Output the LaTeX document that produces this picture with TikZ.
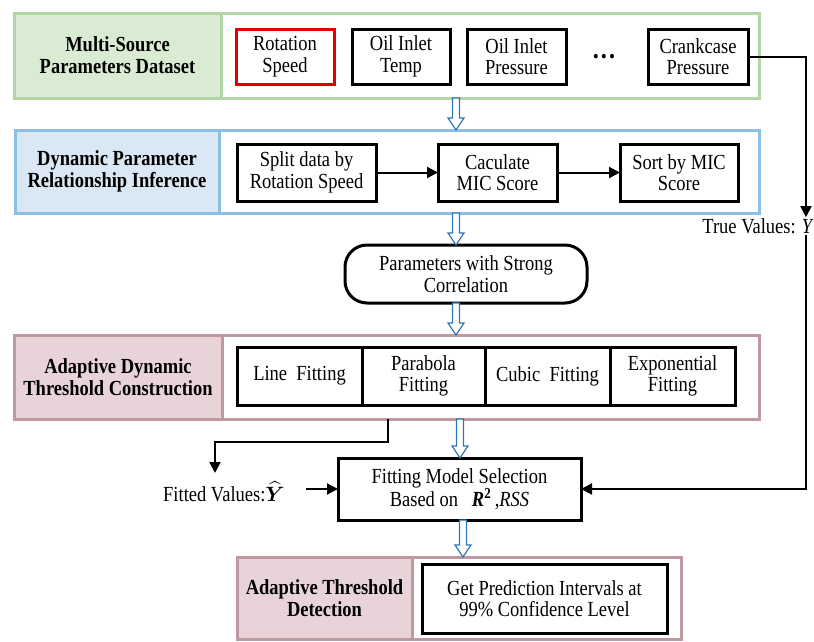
\documentclass[tikz,border=0pt]{standalone}
\usepackage{amsmath}
\usepackage{fontspec}
\setmainfont{Liberation Serif}
\newfontfamily\tnr{Liberation Serif}[FakeStretch=0.86]
\usetikzlibrary{arrows.meta,calc}
\definecolor{gfill}{RGB}{218,235,212}
\definecolor{gline}{RGB}{178,214,163}
\definecolor{bfill}{RGB}{218,231,244}
\definecolor{bline}{RGB}{141,190,228}
\definecolor{pfill}{RGB}{232,212,216}
\definecolor{pline}{RGB}{192,153,160}
\definecolor{hblue}{RGB}{46,117,182}
\definecolor{redbox}{RGB}{226,0,0}
\newcommand{\hollowarrow}[2]{%
  \path let \p1=#1, \p2=#2 in [draw=hblue, fill=white, line width=1.2pt, line join=miter]
  ({\x1-3.5pt},{\y1}) -- ({\x1-3.5pt},{\y2+12pt}) -- ({\x1-8pt},{\y2+12pt}) -- ({\x1},{\y2})
  -- ({\x1+8pt},{\y2+12pt}) -- ({\x1+3.5pt},{\y2+12pt}) -- ({\x1+3.5pt},{\y1}) -- cycle;}
\begin{document}
\begin{tikzpicture}[x=1pt,y=-1pt,
  every node/.style={font=\tnr\fontsize{21.5}{21.5}\selectfont},
  panel/.style={draw, line width=3pt, inner sep=0pt, outer sep=0pt, fill=white},
  lsec/.style={draw, line width=3pt, inner sep=0pt, outer sep=0pt, align=center,
    font=\tnr\fontsize{21.5}{22}\selectfont\bfseries},
  box/.style={draw=black, line width=3pt, inner sep=0pt, outer sep=0pt, align=center, fill=white},
  conn/.style={line width=2pt, -{Triangle[length=11pt,width=11pt]}}]
\useasboundingbox (0,0) rectangle (814,641);
% column coordinates
\coordinate (cA) at (456,0);
\coordinate (cB) at (460,0);
\coordinate (cC) at (463,0);
\coordinate (cR) at (806,0);
\coordinate (cL) at (388,0);
% panel 1
\node[panel, draw=gline, minimum width=745pt, minimum height=85pt] (pA) at (386.5,55.5) {};
\node[lsec, draw=gline, fill=gfill, minimum width=207pt, minimum height=85pt] (lA) at (117.5,55.5) {Multi-Source\\Parameters Dataset};
\node[box, draw=redbox, minimum width=98pt, minimum height=55pt] (rs) at (285,56.5) {Rotation\\Speed};
\node[box, minimum width=98pt, minimum height=55pt] (oit) at (401,56.5) {Oil Inlet\\Temp};
\node[box, minimum width=99pt, minimum height=55pt] (oip) at (516.5,56.5) {Oil Inlet\\Pressure};
\node[font=\tnr\fontsize{28}{28}\selectfont\bfseries, inner sep=0pt] (dots) at (604,57) {.\kern2pt.\kern2pt.};
\node[box, minimum width=100pt, minimum height=55pt] (cp) at (698,56.5) {Crankcase\\Pressure};
% panel 2
\node[panel, draw=bline, minimum width=744pt, minimum height=83pt] (pB) at (387,171.5) {};
\node[lsec, draw=bline, fill=bfill, minimum width=204pt, minimum height=83pt] (lB) at (117,171.5) {Dynamic Parameter\\Relationship Inference};
\node[box, minimum width=139pt, minimum height=57pt] (split) at (306.5,172.5) {Split data by\\Rotation Speed};
\node[box, minimum width=119pt, minimum height=57pt] (mic) at (497.5,172.5) {Caculate\\MIC Score};
\node[box, minimum width=118pt, minimum height=57pt] (sort) at (679,172.5) {Sort by MIC\\Score};
% strong correlation
\node[box, rounded corners=22pt, minimum width=242pt, minimum height=58pt] (strong) at (466,274) {Parameters with Strong\\Correlation};
% panel 3
\node[panel, draw=pline, minimum width=745pt, minimum height=84pt] (pC) at (386.5,377) {};
\node[lsec, draw=pline, fill=pfill, minimum width=208pt, minimum height=84pt] (lC) at (118,377) {Adaptive Dynamic\\Threshold Construction};
\node[box, minimum width=125pt, minimum height=58pt] (linef) at (299.5,376) {Line~~Fitting};
\node[box, minimum width=123pt, minimum height=58pt] (parab) at (423.5,376) {Parabola\\Fitting};
\node[box, minimum width=125pt, minimum height=58pt] (cubic) at (547.5,376) {Cubic~~Fitting};
\node[box, minimum width=125pt, minimum height=58pt] (expo) at (672.5,376) {Exponential\\Fitting};
% fitting model selection
\node[box, minimum width=243pt, minimum height=62pt] (fit) at (459.5,489) {Fitting Model Selection\\Based on~~~\textbf{\textit{R}}\textsuperscript{\textbf{2}}\,,\textit{RSS}};
% panel 4
\node[panel, draw=pline, minimum width=444pt, minimum height=82pt] (pD) at (459,598) {};
\node[lsec, draw=pline, fill=pfill, minimum width=175pt, minimum height=82pt] (lD) at (324.5,598) {Adaptive Threshold\\Detection};
\node[box, minimum width=245pt, minimum height=69pt] (pred) at (544.5,598.5) {Get Prediction Intervals at\\99\% Confidence Level};
% labels
\node[anchor=east, inner sep=1pt] (tv) at (815,226) {True Values: \textit{Y}};
\node[anchor=west, inner sep=0pt] (fv) at (163,492) {Fitted Values:$\boldsymbol{\widehat{Y}}$};
\coordinate (el) at (215,442);
\coordinate (fvtop) at (215,473);
\coordinate (fvr) at (306,489);
% connectors
\draw[conn] (split) -- (mic);
\draw[conn] (mic) -- (sort);
\draw[conn] (cp.east) -| (tv.north -| cR);
\draw[conn] (tv.south -| cR) |- (fit.east);
\draw[conn] (pC.south -| cL) |- (el) -- (fvtop);
\draw[conn] (fvr) -- (fit.west);
% hollow arrows
\hollowarrow{(pA.south -| cA)}{(pB.north -| cA)}
\hollowarrow{(pB.south -| cA)}{(strong.north -| cA)}
\hollowarrow{(strong.south -| cA)}{(pC.north -| cA)}
\hollowarrow{(pC.south -| cB)}{(fit.north -| cB)}
\hollowarrow{(fit.south -| cC)}{(pD.north -| cC)}
\end{tikzpicture}
\end{document}
